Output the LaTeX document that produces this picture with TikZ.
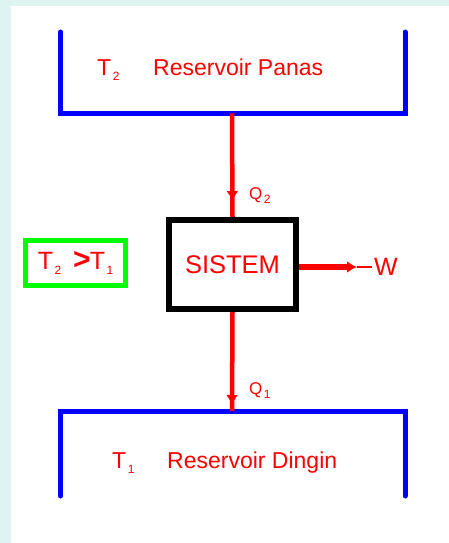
\documentclass[tikz,border=0pt]{standalone}
\usepackage{fontspec}
\setmainfont{Liberation Sans}
\usetikzlibrary{arrows.meta,decorations.markings}
\definecolor{bgcyan}{RGB}{221,244,240}
\definecolor{pred}{RGB}{255,0,0}
\definecolor{pblue}{RGB}{0,0,255}
\definecolor{pgreen}{RGB}{0,255,0}
\newcommand\lowsub[1]{\hspace{1.5pt}\raisebox{-0.45ex}{\fontsize{12}{12}\selectfont #1}}
\tikzset{
  reservoir/.style={draw=pblue, line width=5pt, line cap=round, line join=miter},
  lbl/.style={text=pred, inner sep=0pt, font=\fontsize{23}{27}\selectfont},
  qlbl/.style={text=pred, inner sep=0pt, font=\fontsize{17}{20}\selectfont},
  heatline/.style={draw=pred, line width=4.5pt},
  midarrow/.style={postaction={decorate}, decoration={markings,
     mark=at position #1 with {\arrow[pred]{Latex[length=10pt,width=12pt]}}}},
  sysbox/.style={draw=black, line width=6pt, fill=white, minimum width=127pt,
     minimum height=89pt, inner sep=0pt, text=pred, font=\fontsize{25.5}{30}\selectfont},
  condbox/.style={draw=pgreen, line width=5pt, minimum width=100pt, minimum height=45pt,
     inner sep=0pt, text=pred, font=\fontsize{25}{28}\selectfont}
}
\begin{document}
\begin{tikzpicture}[x=1pt,y=-1pt]
\useasboundingbox (0,0) rectangle (449,543);
\fill[bgcyan] (0,0) rectangle (449,543);
\fill[white] (11,6) rectangle (449,543);
% hot reservoir
\draw[reservoir] (60.5,32) -- (60.5,113.5) -- (405,113.5) -- (405,32);
\coordinate (hot) at (232,113.5);
\node[lbl, anchor=base west] (t2) at (97,75) {T\lowsub{2}};
\node[lbl, anchor=base west] (hotname) at (153,75) {Reservoir Panas};
% cold reservoir
\draw[reservoir] (60.5,496) -- (60.5,411) -- (405,411) -- (405,496);
\coordinate (cold) at (232,411);
\node[lbl, anchor=base west] (t1) at (112,468) {T\lowsub{1}};
\node[lbl, anchor=base west] (coldname) at (167,468) {Reservoir Dingin};
% system
\node[sysbox] (sys) at (232.5,264.5) {SISTEM};
\draw[heatline, midarrow=-16pt] (hot) -- (sys.north);
\draw[heatline, midarrow=-6pt] (sys.south) -- (cold);
\node[qlbl, anchor=west] (q2) at (249,196) {Q\lowsub{2}};
\node[qlbl, anchor=west] (q1) at (249,391) {Q\lowsub{1}};
% work
\node[text=pred, inner sep=2pt, anchor=west, font=\fontsize{25}{30}\selectfont] (w) at (372,267) {W};
\coordinate (wtip) at (357,267);
\draw[draw=pred, line width=6pt, -{Latex[length=10pt,width=12pt]}] (sys.east |- wtip) -- (wtip);
\draw[draw=pred, line width=2pt] (wtip) -- (w.west);
% condition
\node[condbox] (cond) at (75.5,263) {T\lowsub{2}\hspace{12pt}{\bfseries\fontsize{30}{30}\selectfont >}\hspace{-1pt}T\lowsub{1}};
\end{tikzpicture}
\end{document}
